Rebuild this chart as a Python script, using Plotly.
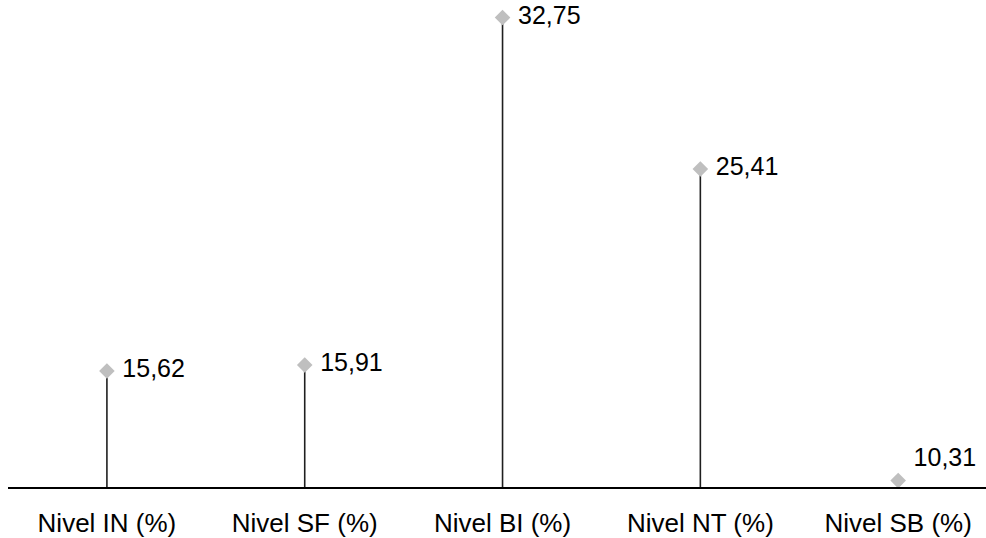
import plotly.graph_objects as go

categories = ["Nivel IN (%)", "Nivel SF (%)", "Nivel BI (%)", "Nivel NT (%)", "Nivel SB (%)"]
values = [15.62, 15.91, 32.75, 25.41, 10.31]
labels = ["15,62", "15,91", "32,75", "25,41", "10,31"]
axis_base = 10.0

x_idx = list(range(len(categories)))
text_pos = ["middle right"] * 4 + ["top right"]

fig = go.Figure()
fig.add_trace(go.Scatter(
    x=x_idx, y=values,
    mode="markers+text",
    text=[" " + t for t in labels],
    textposition=text_pos,
    textfont=dict(family="Liberation Sans, Arial, sans-serif", size=25, color="#000000"),
    marker=dict(symbol="diamond", size=12, color="#BFBFBF", line=dict(width=0)),
    error_y=dict(type="data", symmetric=False,
                 array=[0] * len(values),
                 arrayminus=[v - axis_base for v in values],
                 thickness=1.6, width=0, color="#1f1f1f"),
    cliponaxis=False,
    showlegend=False,
    hoverinfo="skip",
))

fig.update_layout(
    width=986, height=538,
    margin=dict(l=8, r=0, t=0, b=49),
    paper_bgcolor="white", plot_bgcolor="white",
    font=dict(family="Liberation Sans, Arial, sans-serif", size=26, color="#000000"),
    xaxis=dict(
        range=[-0.5, 4.444],
        tickmode="array", tickvals=x_idx, ticktext=categories,
        showline=True, linecolor="#000000", linewidth=1.6,
        showgrid=False, zeroline=False, ticks="",
        tickfont=dict(size=26, color="#000000"),
        ticklabelstandoff=12,
    ),
    yaxis=dict(
        range=[axis_base, axis_base + 489 / 20.72],
        visible=False, showgrid=False, zeroline=False,
    ),
)

fig.write_html("out.html", config={"displayModeBar": False},
               post_script="document.body.style.margin='0';")
